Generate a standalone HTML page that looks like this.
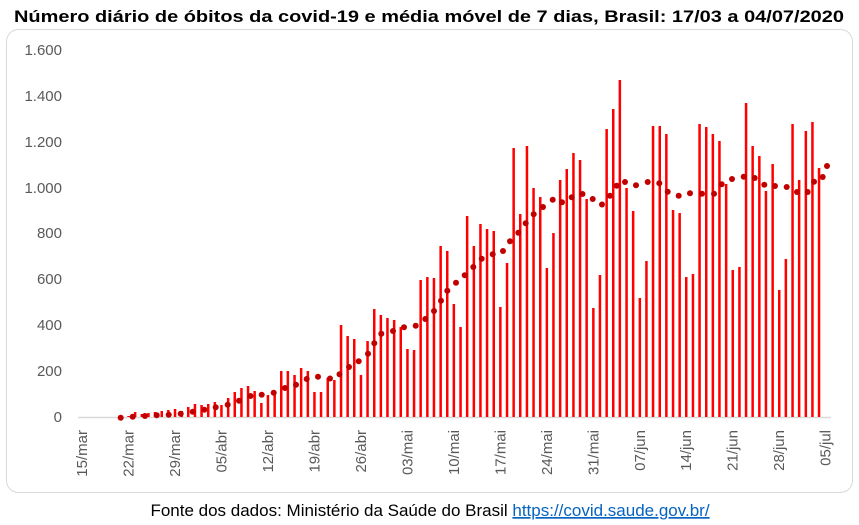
<!DOCTYPE html>
<html><head><meta charset="utf-8"><style>
html,body{margin:0;padding:0;background:#fff;width:859px;height:525px;overflow:hidden}
</style></head><body>
<svg width="859" height="525" viewBox="0 0 859 525" xmlns="http://www.w3.org/2000/svg" font-family="Liberation Sans, sans-serif">
<rect x="0" y="0" width="859" height="525" fill="#fff"/>
<text x="429" y="22" text-anchor="middle" font-size="17" font-weight="bold" fill="#000" textLength="830" lengthAdjust="spacingAndGlyphs">Número diário de óbitos da covid-19 e média móvel de 7 dias, Brasil: 17/03 a 04/07/2020</text>
<rect x="6.5" y="29.5" width="846" height="463" rx="12" fill="#fff" stroke="#d9d9d9" stroke-width="1"/>
<g font-size="15" fill="#595959" text-anchor="end">
<text x="62" y="422">0</text>
<text x="62" y="376">200</text>
<text x="62" y="330">400</text>
<text x="62" y="284">600</text>
<text x="62" y="238">800</text>
<text x="62" y="193">1.000</text>
<text x="62" y="147">1.200</text>
<text x="62" y="101">1.400</text>
<text x="62" y="55">1.600</text>
</g>
<line x1="78" y1="417.5" x2="831" y2="417.5" stroke="#d9d9d9" stroke-width="1.5"/>
<g id="bars" fill="#ff0000"></g>
<g id="dots" fill="#c00000"></g>
<g id="lbl" font-size="15" fill="#595959" text-anchor="end"></g>
<text x="430" y="516" text-anchor="middle" font-size="17" fill="#000">Fonte dos dados: Ministério da Saúde do Brasil <tspan fill="#0563c1" text-decoration="underline">https://covid.saude.gov.br/</tspan></text>
</svg>
<script>
var tops={2:417,3:417,4:417,5:417,6:417,7:416,8:412,9:414,10:413,11:412,12:411,13:410,14:409,15:411,16:407,17:404,18:405,19:404,20:402,21:405,22:398,23:392,24:388,25:386,26:391,27:403,28:395,29:393,30:371,31:371,32:375,33:368,34:371,35:392,36:392,37:378,38:380,39:325,40:336,41:339,42:375,43:341,44:309,45:315,46:318,47:320,48:327,49:349,50:350,51:280,52:277,53:278,54:246,55:251,56:304,57:327,58:216,59:246,60:224,61:229,62:231,63:307,64:263,65:148,66:214,67:146,68:188,69:197,70:268,71:233,72:180,73:169,74:153,75:160,76:199,77:308,78:275,79:129,80:109,81:80,82:188,83:211,84:298,85:261,86:126,87:126,88:134,89:210,90:213,91:277,92:274,93:124,94:127,95:134,96:141,97:184,98:270,99:267,100:103,101:146,102:156,103:191,104:164,105:290,106:259,107:124,108:180,109:131,110:122,111:168};
var ns="http://www.w3.org/2000/svg";
var b=document.getElementById("bars");
for(var d in tops){var x=82+6.64*d;var y=tops[d];if(y>=417)continue;var r=document.createElementNS(ns,"rect");r.setAttribute("x",(x-1.2).toFixed(1));r.setAttribute("y",y);r.setAttribute("width","2.5");r.setAttribute("height",(417-y));b.appendChild(r);}
var dots=[[120.7,417.7],[132.7,416.7],[145,416],[156.7,415.3],[168.7,414.7],[180.7,413.7],[192.7,411.7],[204.3,409.7],[215.7,407.3],[227.7,404.7],[239,400.7],[250.5,396],[261.7,394.7],[273.7,392.7],[285,388],[296,384.7],[306.7,379],[318,376.7],[330,378.5],[339.5,374.2],[349,367],[358.7,361.3],[368,353.7],[374.3,343.3],[381.3,333.7],[393,331],[404,327.3],[415.7,325.7],[425.3,319],[434,311],[441,300.7],[447.3,290.7],[456,282.7],[464.7,275.3],[473.3,267],[481.7,258.7],[492.7,254.3],[503,251],[510,241.3],[518.3,232.7],[525.7,223.3],[533.7,214.3],[543,207],[552.7,199.7],[562,202.3],[571.7,197.3],[582.5,194],[592.7,199],[602,204.5],[610,195.7],[616.7,185.7],[625,182],[636,185.3],[647.7,182],[659.3,183.3],[667.7,191.7],[678.7,195.7],[690,193.3],[702,193.7],[714,193.7],[721.7,184.3],[732,179],[743.7,176.7],[754.7,178],[764.3,184.7],[775,186],[786.7,187],[797,192],[807.7,192],[814,181.7],[822.7,177],[827,166]];
var g=document.getElementById("dots");
dots.forEach(function(p){var c=document.createElementNS(ns,"circle");c.setAttribute("cx",p[0]);c.setAttribute("cy",p[1]);c.setAttribute("r","3");g.appendChild(c);});
var labs=["15/mar","22/mar","29/mar","05/abr","12/abr","19/abr","26/abr","03/mai","10/mai","17/mai","24/mai","31/mai","07/jun","14/jun","21/jun","28/jun","05/jul"];
var L=document.getElementById("lbl");
labs.forEach(function(s,k){var x=82+7*6.64*k+5;var t=document.createElementNS(ns,"text");t.setAttribute("x",x.toFixed(1));t.setAttribute("y","430");t.setAttribute("transform","rotate(-90 "+x.toFixed(1)+" 430)");t.textContent=s;L.appendChild(t);});
</script>
</body></html>
